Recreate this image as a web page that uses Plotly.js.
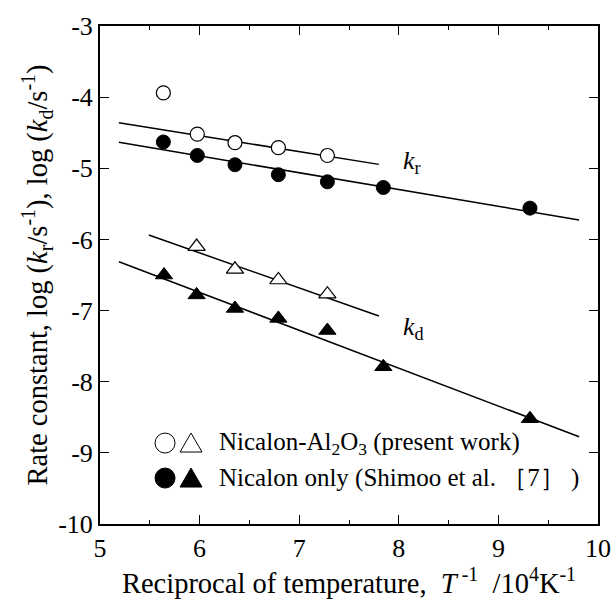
<!DOCTYPE html>
<html>
<head>
<meta charset="utf-8">
<script src="https://cdn.plot.ly/plotly-3.0.1.min.js"></script>
<style>body{margin:0;background:#fff}#chart{width:613px;height:601px}</style>
</head>
<body>
<div id="chart"></div>
<script>
// Nicalon-Al2O3 (present work): k_r (open circles), k_d (open triangles)
const openCircleX = [5.636, 5.977, 6.355, 6.791, 7.283];
const openCircleY = [-3.94, -4.52, -4.64, -4.71, -4.82];
const openTriX = [5.97, 6.355, 6.791, 7.283];
const openTriY = [-6.10, -6.42, -6.57, -6.77];
// Nicalon only (Shimoo et al. [7]): k_r (filled circles), k_d (filled triangles)
const fillCircleX = [5.636, 5.977, 6.355, 6.791, 7.283, 7.845, 9.317];
const fillCircleY = [-4.63, -4.82, -4.95, -5.09, -5.19, -5.27, -5.56];
const fillTriX = [5.643, 5.97, 6.355, 6.791, 7.283, 7.845, 9.317];
const fillTriY = [-6.50, -6.78, -6.97, -7.11, -7.28, -7.79, -8.52];
// fitted lines (endpoints)
const fitOpenCircleX = [5.19, 7.80];
const fitOpenCircleY = [-4.36, -4.945];
const fitFillCircleX = [5.19, 9.81];
const fitFillCircleY = [-4.635, -5.727];
const fitOpenTriX = [5.49, 7.80];
const fitOpenTriY = [-5.938, -7.076];
const fitFillTriX = [5.19, 9.81];
const fitFillTriY = [-6.313, -8.773];
// tick labels
const xTickVals = [5, 6, 7, 8, 9, 10];
const xTickText = ['5', '6', '7', '8', '9', '10'];
const yTickVals = [-3, -4, -5, -6, -7, -8, -9, -10];
const yTickText = ['-3', '-4', '-5', '-6', '-7', '-8', '-9', '-10'];
// legend entries
const legendLabels = ['Nicalon-Al<sub>2</sub>O<sub>3</sub> (present work)', 'Nicalon only (Shimoo et al. ［7］ )'];
const legendFill = ['#fff', '#000'];

const serif = "Liberation Serif, Times New Roman, serif";
const lineStyle = {color: '#000', width: 1.5};
const traces = [
  {x: fitOpenCircleX, y: fitOpenCircleY, mode: 'lines', line: lineStyle},
  {x: fitFillCircleX, y: fitFillCircleY, mode: 'lines', line: lineStyle},
  {x: fitOpenTriX, y: fitOpenTriY, mode: 'lines', line: lineStyle},
  {x: fitFillTriX, y: fitFillTriY, mode: 'lines', line: lineStyle},
  {x: openCircleX, y: openCircleY, mode: 'markers',
   marker: {symbol: 'circle', size: 14, color: '#fff', line: {color: '#000', width: 1.2}}},
  {x: fillCircleX, y: fillCircleY, mode: 'markers',
   marker: {symbol: 'circle', size: 14, color: '#000', line: {color: '#000', width: 1}}},
  {x: openTriX, y: openTriY, mode: 'markers',
   marker: {symbol: 'triangle-up', size: 15, color: '#fff', line: {color: '#000', width: 1.2}}},
  {x: fillTriX, y: fillTriY, mode: 'markers',
   marker: {symbol: 'triangle-up', size: 15, color: '#000', line: {color: '#000', width: 1}}}
];

// legend placement (data coordinates inside the plot)
const legendRowY = [-8.862, -9.354];
const legendCircleX = 5.653, legendTriX = 5.914, legendTextX = 6.175;
const shapes = [];
const annotations = [
  {x: 8.02, y: -4.91, xref: 'x', yref: 'y', text: '<i>k</i><sub>r</sub>', showarrow: false,
   font: {family: serif, size: 26, color: '#000'}, xanchor: 'left'},
  {x: 8.02, y: -7.25, xref: 'x', yref: 'y', text: '<i>k</i><sub>d</sub>', showarrow: false,
   font: {family: serif, size: 26, color: '#000'}, xanchor: 'left'}
];
legendLabels.forEach((lab, i) => {
  const yy = legendRowY[i];
  shapes.push({type: 'circle', xref: 'x', yref: 'y', xsizemode: 'pixel', ysizemode: 'pixel',
    xanchor: legendCircleX, yanchor: yy, x0: -10, x1: 10, y0: -10, y1: 10,
    fillcolor: legendFill[i], line: {color: '#000', width: 1}});
  shapes.push({type: 'path', xref: 'x', yref: 'y', xsizemode: 'pixel', ysizemode: 'pixel',
    xanchor: legendTriX, yanchor: yy, path: 'M -11 -9 L 11 -9 L 0 10 Z',
    fillcolor: legendFill[i], line: {color: '#000', width: 1}});
  annotations.push({x: legendTextX, y: yy, xref: 'x', yref: 'y', text: lab, showarrow: false,
    font: {family: serif, size: 25, color: '#000'}, xanchor: 'left'});
});

const layout = {
  width: 613, height: 601,
  margin: {l: 100, r: 15, t: 26, b: 77},
  paper_bgcolor: '#fff', plot_bgcolor: '#fff',
  showlegend: false,
  font: {family: serif, color: '#000', size: 22},
  xaxis: {
    range: [5, 10], tickmode: 'array', tickvals: xTickVals, ticktext: xTickText,
    ticks: 'inside', ticklen: 9, tickwidth: 1, tickcolor: '#000',
    minor: {tickmode: 'linear', tick0: 5, dtick: 0.5, ticks: 'inside', ticklen: 4, tickcolor: '#000'},
    showline: true, linecolor: '#000', linewidth: 2, mirror: 'ticks',
    showgrid: false, zeroline: false,
    tickfont: {family: serif, size: 26, color: '#000'},
    title: {text: 'Reciprocal of temperature,\u00a0 <i>T</i><sup>\u00a0-1</sup>\u00a0\u00a0/10<sup>4</sup>K<sup>-1</sup>',
            font: {family: serif, size: 28.5, color: '#000'}, standoff: 5}
  },
  yaxis: {
    range: [-10, -3], tickmode: 'array', tickvals: yTickVals, ticktext: yTickText,
    ticks: 'inside', ticklen: 9, tickwidth: 1, tickcolor: '#000',
    showline: true, linecolor: '#000', linewidth: 2, mirror: 'ticks',
    showgrid: false, zeroline: false,
    tickfont: {family: serif, size: 26, color: '#000'},
    title: {text: 'Rate constant, log (<i>k</i><sub>r</sub>/s<sup>-1</sup>), log (<i>k</i><sub>d</sub>/s<sup>-1</sup>)',
            font: {family: serif, size: 28.5, color: '#000'}, standoff: 2}
  },
  shapes: shapes,
  annotations: annotations
};

Plotly.newPlot('chart', traces, layout, {displayModeBar: false, staticPlot: true});
</script>
</body>
</html>
